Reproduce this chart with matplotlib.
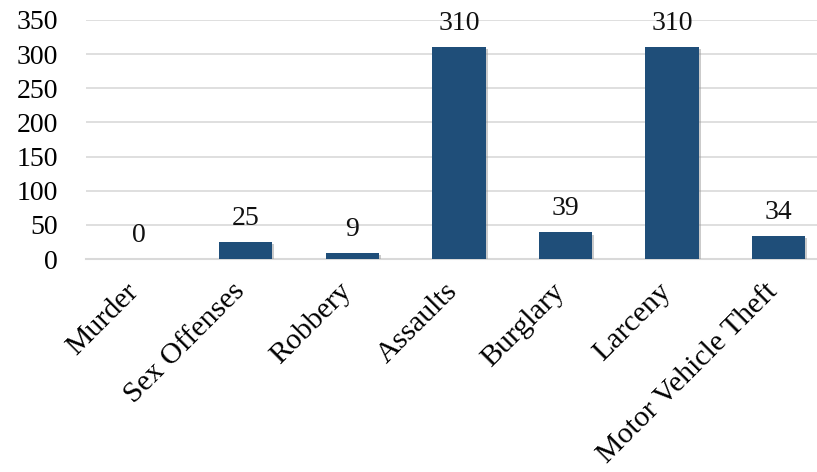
import matplotlib.pyplot as plt
import matplotlib.patheffects as pe

plt.rcParams['font.family'] = ['Liberation Serif', 'DejaVu Serif']

categories = ["Murder", "Sex Offenses", "Robbery", "Assaults", "Burglary", "Larceny", "Motor Vehicle Theft"]
counts = [0, 25, 9, 310, 39, 310, 34]
yticks = [0, 50, 100, 150, 200, 250, 300, 350]

fig = plt.figure(figsize=(8.17, 4.72), dpi=100)
ax = fig.add_axes([0.105, 0.451, 0.895, 0.507])

x = range(len(categories))
bars = ax.bar(x, counts, width=0.5, color="#1f4e79", zorder=3,
              path_effects=[pe.SimplePatchShadow(offset=(1.5, -1.5), shadow_rgbFace="#999999", alpha=0.5), pe.Normal()])

for xi, v in zip(x, counts):
    ax.annotate(str(v), (xi, v), xytext=(0, 8), textcoords="offset points",
                ha="center", va="bottom", fontsize=20, color="#111111")

ax.set_ylim(0, 350)
ax.set_xlim(-0.5, 6.36)
ax.set_yticks(yticks)
ax.set_yticklabels([str(t) for t in yticks], fontsize=20)
ax.yaxis.grid(True, color="#d9d9d9", linewidth=1.2, zorder=0)
ax.tick_params(axis="y", length=0, pad=20)
ax.tick_params(axis="x", length=0, pad=24)
ax.set_xticks(list(x))
ax.set_xticklabels(categories, fontsize=21.5, rotation=45, ha="right", va="baseline",
                   rotation_mode="anchor")

for s in ["top", "right", "left"]:
    ax.spines[s].set_visible(False)
ax.spines["bottom"].set_color("#d9d9d9")
ax.spines["bottom"].set_linewidth(1.5)

fig.savefig("out.png", dpi=100)
